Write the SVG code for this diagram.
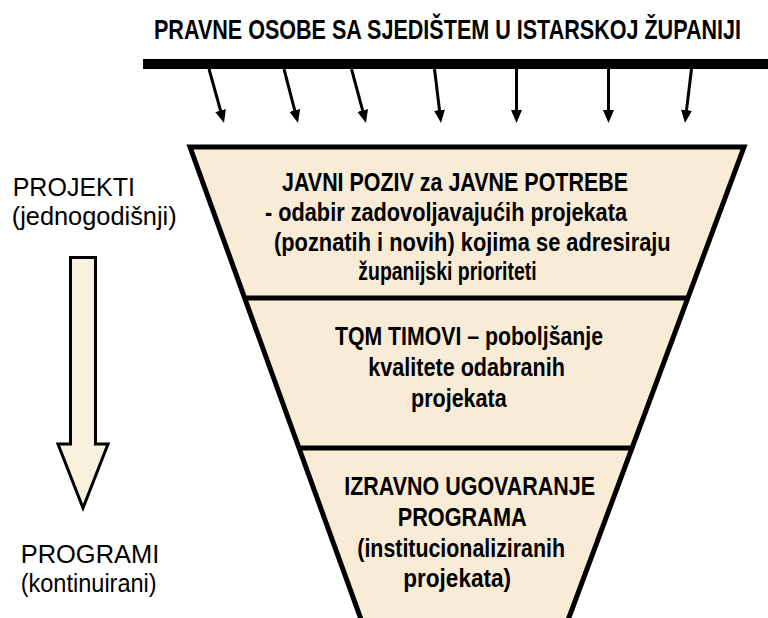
<svg xmlns="http://www.w3.org/2000/svg" width="768" height="618" viewBox="0 0 768 618">
  <style>
    .bold { font-family: "Liberation Sans", Arial, sans-serif; font-weight: bold; fill: #000; }
    .title { font-size: 28px; }
    .ft { font-size: 25px; }
    .side { font-family: "Liberation Sans", Arial, sans-serif; font-size: 25px; fill: #000; }
    .conn { stroke: #000; stroke-width: 3; fill: none; }
    .edge { stroke: #000; stroke-width: 5; }
  </style>
  <defs>
    <marker id="head" markerUnits="userSpaceOnUse" markerWidth="14" markerHeight="12" refX="1" refY="6" orient="auto">
      <path d="M0,0.5 L13,6 L0,11.5 Z" fill="#000"/>
    </marker>
  </defs>
  <rect width="768" height="618" fill="#fff"/>

  <g id="title">
    <text class="bold title" transform="translate(154,39.3) scale(0.762,1)" x="0" y="0" textLength="770.3" lengthAdjust="spacingAndGlyphs">PRAVNE OSOBE SA SJEDIŠTEM U ISTARSKOJ ŽUPANIJI</text>
  </g>

  <g id="source-bar">
    <rect x="143" y="59" width="625" height="10" fill="#000"/>
  </g>

  <g id="connectors">
    <line class="conn" x1="209" y1="69" x2="220.8" y2="111.4" marker-end="url(#head)"/>
    <line class="conn" x1="284" y1="69" x2="295" y2="111.4" marker-end="url(#head)"/>
    <line class="conn" x1="351.5" y1="69" x2="362.9" y2="111.4" marker-end="url(#head)"/>
    <line class="conn" x1="434.5" y1="69" x2="439.6" y2="111.1" marker-end="url(#head)"/>
    <line class="conn" x1="516.5" y1="69" x2="516.5" y2="111" marker-end="url(#head)"/>
    <line class="conn" x1="608.5" y1="69" x2="608.5" y2="111" marker-end="url(#head)"/>
    <line class="conn" x1="691.5" y1="69" x2="686.4" y2="111.1" marker-end="url(#head)"/>
  </g>

  <g id="funnel">
    <polygon points="190,147 744,147 560.6,640 368.5,640" fill="#F8ECD6" stroke="#000" stroke-width="5" stroke-linejoin="miter"/>
    <line class="edge" x1="244.7" y1="298" x2="687.8" y2="298"/>
    <line class="edge" x1="299" y1="448" x2="632" y2="448"/>
  </g>

  <g id="tier-javni-poziv">
    <text class="bold ft" x="282" y="190.7" textLength="346" lengthAdjust="spacingAndGlyphs">JAVNI POZIV za JAVNE POTREBE</text>
    <text class="bold ft" x="265" y="221" textLength="362" lengthAdjust="spacingAndGlyphs">- odabir zadovoljavajućih projekata</text>
    <text class="bold ft" x="274" y="250.7" textLength="396.7" lengthAdjust="spacingAndGlyphs">(poznatih i novih) kojima se adresiraju</text>
    <text class="bold ft" x="358.3" y="280" textLength="178.4" lengthAdjust="spacingAndGlyphs">županijski prioriteti</text>
  </g>

  <g id="tier-tqm">
    <text class="bold ft" x="335" y="345" textLength="268" lengthAdjust="spacingAndGlyphs">TQM TIMOVI – poboljšanje</text>
    <text class="bold ft" x="368.3" y="376" textLength="196.7" lengthAdjust="spacingAndGlyphs">kvalitete odabranih</text>
    <text class="bold ft" x="411" y="406.7" textLength="95.7" lengthAdjust="spacingAndGlyphs">projekata</text>
  </g>

  <g id="tier-izravno">
    <text class="bold ft" x="344.3" y="495" textLength="250.7" lengthAdjust="spacingAndGlyphs">IZRAVNO UGOVARANJE</text>
    <text class="bold ft" x="397.7" y="526" textLength="129" lengthAdjust="spacingAndGlyphs">PROGRAMA</text>
    <text class="bold ft" x="357.3" y="556.7" textLength="207.7" lengthAdjust="spacingAndGlyphs">(institucionaliziranih</text>
    <text class="bold ft" x="403.3" y="586.7" textLength="107.7" lengthAdjust="spacingAndGlyphs">projekata)</text>
  </g>

  <g id="label-projekti">
    <text class="side" x="12.7" y="196" textLength="122.3" lengthAdjust="spacingAndGlyphs">PROJEKTI</text>
    <text class="side" x="11.7" y="225" textLength="165" lengthAdjust="spacingAndGlyphs">(jednogodišnji)</text>
  </g>

  <g id="left-arrow">
    <polygon points="70.5,257.5 95.5,257.5 95.5,444 108,444 83,508 58,444 70.5,444" fill="#FAF0DE" stroke="#000" stroke-width="3" stroke-linejoin="miter"/>
  </g>

  <g id="label-programi">
    <text class="side" x="20.7" y="562.7" textLength="138.6" lengthAdjust="spacingAndGlyphs">PROGRAMI</text>
    <text class="side" x="20.7" y="591.7" textLength="136" lengthAdjust="spacingAndGlyphs">(kontinuirani)</text>
  </g>
</svg>
